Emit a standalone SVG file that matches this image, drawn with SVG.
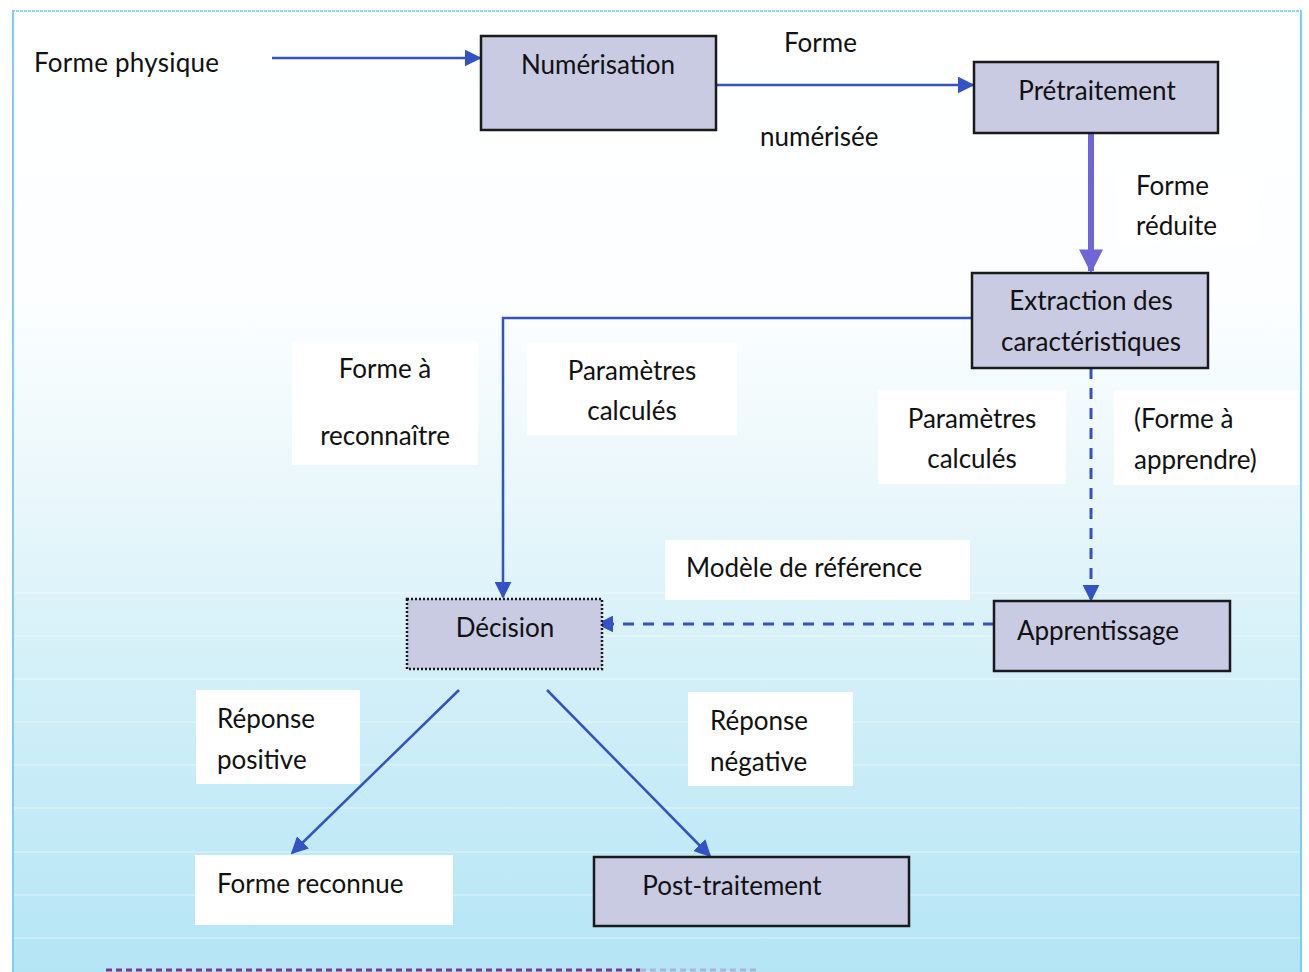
<svg xmlns="http://www.w3.org/2000/svg" width="1309" height="972" viewBox="0 0 1309 972">
  <defs>
    <linearGradient id="bg" x1="0" y1="0" x2="0" y2="1">
      <stop offset="0" stop-color="#ffffff"/>
      <stop offset="0.3" stop-color="#fcfeff"/>
      <stop offset="0.5" stop-color="#eaf7fb"/>
      <stop offset="0.7" stop-color="#d2eff8"/>
      <stop offset="1" stop-color="#b4e5f5"/>
    </linearGradient>
    <marker id="arrS" viewBox="0 0 10 10" refX="9" refY="5" markerWidth="17" markerHeight="17" markerUnits="userSpaceOnUse" orient="auto">
      <path d="M0,0 L10,5 L0,10 z" fill="#3352c4"/>
    </marker>
    <marker id="arrThick" viewBox="0 0 10 10" refX="9" refY="5" markerWidth="24" markerHeight="24" markerUnits="userSpaceOnUse" orient="auto">
      <path d="M0,0 L10,5 L0,10 z" fill="#6e66d6"/>
    </marker>
  </defs>
  <style>
    text { font-family: Lato, "Open Sans", "Liberation Sans", sans-serif; font-size: 26px; fill: #111111; }
    .node rect { fill: #c9cbe3; stroke: #1a1a1a; stroke-width: 2.5; }
    .node text { text-anchor: middle; }
    .lbl rect { fill: #ffffff; }
    .c { text-anchor: middle; }
    .conn { fill: none; stroke: #3352c4; stroke-width: 2.5; }
    .dash { stroke-width: 3; stroke-dasharray: 11 9; }
    .stripe { stroke: #ffffff; stroke-opacity: 0.35; stroke-width: 1.5; }
  </style>

  <!-- page background -->
  <rect x="0" y="0" width="1309" height="972" fill="#ffffff"/>
  <rect x="12" y="10" width="1290" height="962" fill="url(#bg)"/>
  <g id="stripes">
    <line class="stripe" x1="14" y1="593" x2="1300" y2="593"/>
    <line class="stripe" x1="14" y1="636" x2="1300" y2="636"/>
    <line class="stripe" x1="14" y1="679" x2="1300" y2="679"/>
    <line class="stripe" x1="14" y1="722" x2="1300" y2="722"/>
    <line class="stripe" x1="14" y1="765" x2="1300" y2="765"/>
    <line class="stripe" x1="14" y1="808" x2="1300" y2="808"/>
    <line class="stripe" x1="14" y1="852" x2="1300" y2="852"/>
    <line class="stripe" x1="14" y1="895" x2="1300" y2="895"/>
    <line class="stripe" x1="14" y1="938" x2="1300" y2="938"/>
  </g>
  <line x1="12" y1="11" x2="1302" y2="11" stroke="#8fd6f2" stroke-width="2" stroke-dasharray="3 1"/>
  <line x1="13" y1="10" x2="13" y2="972" stroke="#7fcdef" stroke-width="2"/>
  <line x1="1301" y1="10" x2="1301" y2="972" stroke="#7fcdef" stroke-width="2"/>
  <line x1="106" y1="970" x2="640" y2="970" stroke="#7a3a8c" stroke-width="3" stroke-dasharray="6 4"/>
  <line x1="640" y1="970" x2="760" y2="970" stroke="#a088c0" stroke-width="3" stroke-dasharray="6 4" stroke-opacity="0.5"/>

  <!-- edge labels -->
  <g id="labels" class="lbl">
    <text x="34" y="72" textLength="185">Forme physique</text>
    <text x="784" y="52">Forme</text>
    <text x="760" y="146">numérisée</text>
    <rect x="1118" y="165" width="140" height="80"/>
    <text x="1136" y="195">Forme</text>
    <text x="1136" y="235">réduite</text>
    <rect x="292" y="342" width="186" height="123"/>
    <text class="c" x="385" y="378">Forme à</text>
    <text class="c" x="385" y="445">reconnaître</text>
    <rect x="527" y="343" width="210" height="92"/>
    <text class="c" x="632" y="380">Paramètres</text>
    <text class="c" x="632" y="420">calculés</text>
    <rect x="878" y="390" width="188" height="94"/>
    <text class="c" x="972" y="428">Paramètres</text>
    <text class="c" x="972" y="468">calculés</text>
    <rect x="1114" y="390" width="186" height="95"/>
    <text x="1134" y="428">(Forme à</text>
    <text x="1134" y="469">apprendre)</text>
    <rect x="665" y="540" width="305" height="60"/>
    <text x="686" y="577">Modèle de référence</text>
    <rect x="196" y="690" width="164" height="94"/>
    <text x="217" y="728">Réponse</text>
    <text x="217" y="769">positive</text>
    <rect x="688" y="692" width="165" height="94"/>
    <text x="710" y="730">Réponse</text>
    <text x="710" y="771">négative</text>
    <rect x="195" y="855" width="258" height="70"/>
    <text x="217" y="893">Forme reconnue</text>
  </g>

  <!-- connectors -->
  <g id="connectors">
    <line class="conn" x1="272" y1="58" x2="480" y2="58" marker-end="url(#arrS)"/>
    <line class="conn" x1="716" y1="85" x2="973" y2="85" marker-end="url(#arrS)"/>
    <line x1="1091" y1="133" x2="1091" y2="271" stroke="#6e66d6" stroke-width="6" marker-end="url(#arrThick)"/>
    <polyline class="conn" points="972,318 503,318 503,597" marker-end="url(#arrS)"/>
    <line class="conn dash" x1="1091" y1="368" x2="1091" y2="600" marker-end="url(#arrS)"/>
    <line class="conn dash" x1="994" y1="624" x2="598" y2="624" marker-end="url(#arrS)"/>
    <line class="conn" x1="459" y1="690" x2="292" y2="853" marker-end="url(#arrS)"/>
    <line class="conn" x1="547" y1="690" x2="710" y2="856" marker-end="url(#arrS)"/>
  </g>

  <!-- process nodes -->
  <g id="numerisation" class="node">
    <rect x="481" y="36" width="235" height="94"/>
    <text x="598" y="74">Numérisation</text>
  </g>
  <g id="pretraitement" class="node">
    <rect x="974" y="62" width="244" height="71"/>
    <text x="1097" y="100">Prétraitement</text>
  </g>
  <g id="extraction" class="node">
    <rect x="972" y="273" width="236" height="95"/>
    <text x="1091" y="310">Extraction des</text>
    <text x="1091" y="351">caractéristiques</text>
  </g>
  <g id="decision" class="node">
    <rect x="407" y="599" width="195" height="70" style="stroke-dasharray:2 2"/>
    <text x="505" y="637">Décision</text>
  </g>
  <g id="apprentissage" class="node">
    <rect x="994" y="601" width="236" height="70"/>
    <text x="1098" y="640">Apprentissage</text>
  </g>
  <g id="post-traitement" class="node">
    <rect x="594" y="857" width="315" height="69"/>
    <text x="732" y="895">Post-traitement</text>
  </g>
</svg>
